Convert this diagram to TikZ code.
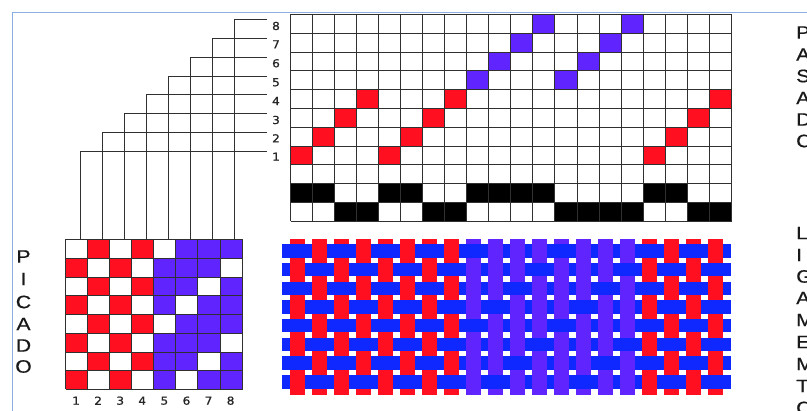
\documentclass[tikz,border=0pt]{standalone}
\usepackage{fontspec}
\setmainfont{Liberation Sans}
\newfontfamily\letterfont[RawFeature={embolden=0.5}]{Liberation Sans}
\newfontfamily\digitfont[RawFeature={embolden=0.9}]{DejaVu Sans}
\definecolor{wred}{HTML}{FF0F1F}
\definecolor{wpurple}{HTML}{6024FF}
\definecolor{wblue}{HTML}{0F28FF}
\definecolor{frameblue}{HTML}{8FAEE0}
\definecolor{gridgray}{HTML}{303030}
\tikzset{
  gridline/.style={draw=gridgray,line width=1.7pt},
  tieline/.style={draw=gridgray,line width=1.4pt},
  numlabel/.style={font=\digitfont\fontsize{11}{11}\selectfont,text=black!85,inner sep=0pt,xscale=1.1},
  bigletter/.style={font=\letterfont\fontsize{18}{18}\selectfont,text=black!90,inner sep=0pt,xscale=1.18},
  sideletter/.style={font=\letterfont\fontsize{18}{18}\selectfont,text=black!90,inner sep=0pt,anchor=west,xscale=1.15},
}
% main draft geometry, snapped to the pixel raster
\newcommand{\mx}[1]{round(290+22.04*(#1))+0.5}
\newcommand{\my}[1]{round(14+18.79*(#1))+0.5}
\newcommand{\lx}[1]{round(65+22.08*(#1))+0.5}
\newcommand{\ly}[1]{round(239+18.75*(#1))+0.5}
\begin{document}
\begin{tikzpicture}[x=1pt,y=-1pt]
\useasboundingbox (0,0) rectangle (807,411);
\clip (0,0) rectangle (807,411);
\fill[white] (0,0) rectangle (807,411);
% frame
\coordinate (frameA) at (12.5,411);
\coordinate (frameB) at (12.5,12.5);
\coordinate (frameC) at (807,12.5);
\draw[frameblue,line width=1.8pt] (frameA) -- (frameB) -- (frameC);
% threading draft: filled cells (col/row from top)
\foreach \c/\r in {11/0,15/0,10/1,14/1,9/2,13/2,8/3,12/3}
  \fill[wpurple] ({\mx{\c}},{\my{\r}}) rectangle ({\mx{\c+1}},{\my{\r+1}});
\foreach \c/\r in {3/4,7/4,19/4,2/5,6/5,18/5,1/6,5/6,17/6,0/7,4/7,16/7}
  \fill[wred] ({\mx{\c}},{\my{\r}}) rectangle ({\mx{\c+1}},{\my{\r+1}});
\foreach \c in {0,1,4,5,8,9,10,11,16,17}
  \fill[black] ({\mx{\c}},{\my{9}}) rectangle ({\mx{\c+1}},{\my{10}});
\foreach \c in {2,3,6,7,12,13,14,15,18,19}
  \fill[black] ({\mx{\c}},{\my{10}}) rectangle ({\mx{\c+1}},{\my{11}});
\foreach \c in {0,...,20}
  \draw[gridline] ({\mx{\c}},{\my{0}}) -- ({\mx{\c}},{\my{11}});
\foreach \r in {0,...,11}
  \draw[gridline] ({\mx{0}},{\my{\r}}) -- ({\mx{20}},{\my{\r}});
% tie-up grid
\foreach \c/\r in {1/0,3/0,0/1,2/1,1/2,3/2,0/3,2/3,1/4,3/4,0/5,2/5,1/6,3/6,0/7,2/7}
  \fill[wred] ({\lx{\c}},{\ly{\r}}) rectangle ({\lx{\c+1}},{\ly{\r+1}});
\foreach \c/\r in {5/0,6/0,7/0,4/1,5/1,6/1,4/2,5/2,7/2,4/3,6/3,7/3,5/4,6/4,7/4,4/5,5/5,6/5,4/6,5/6,7/6,4/7,6/7,7/7}
  \fill[wpurple] ({\lx{\c}},{\ly{\r}}) rectangle ({\lx{\c+1}},{\ly{\r+1}});
\foreach \c in {0,...,8}
  \draw[gridline] ({\lx{\c}},{\ly{0}}) -- ({\lx{\c}},{\ly{8}});
\foreach \r in {0,...,8}
  \draw[gridline] ({\lx{0}},{\ly{\r}}) -- ({\lx{8}},{\ly{\r}});
% tie lines with shaft labels
\foreach \i/\vx/\hy/\ty in {1/80.5/151.5/156.7,2/102.5/132.5/138.3,3/124.5/113.5/120,4/146.5/94.5/101,5/168.5/76.5/82.3,6/190.5/57.5/63.3,7/212.5/38.5/44.3,8/234.5/19.5/26}{
  \coordinate (foot\i) at (\vx,239);
  \coordinate (corner\i) at (\vx,\hy);
  \coordinate (end\i) at (266.7,\hy);
  \draw[tieline] (foot\i) -- (corner\i) -- (end\i);
  \node[numlabel] (shaft\i) at (276,\ty) {\i};
}
% treadle numbers
\foreach \i in {1,...,8}
  \node[numlabel] (treadle\i) at ({65+22.08*(\i-0.5)},400.7) {\i};
% PICADO
\foreach \t/\ty/\n in {P/256.5/a,I/279/b,C/302/c,A/324/d,D/345.5/e,O/366.5/f}
  \node[bigletter] (pic\n) at (23.5,\ty) {\t};
% PASADO
\foreach \t/\ty/\n in {P/32.5/a,A/54.5/b,S/76/c,A/98/d,D/119.5/e,O/141/f}
  \node[sideletter] (pas\n) at (796,\ty) {\t};
% LIGAMENTO
\foreach \t/\ty/\n in {L/233/a,I/255/b,G/276.5/c,A/298/d,M/320/e,E/342/f,M/364/g,T/386/h,O/408/i}
  \node[sideletter] (lig\n) at (796,\ty) {\t};
% weave: warps then wefts then warp floats
\def\warpw{15.2}
\def\weftw{13.4}
\foreach \c/\col in {0/wred,1/wred,2/wred,3/wred,4/wred,5/wred,6/wred,7/wred,8/wpurple,9/wpurple,10/wpurple,11/wpurple,12/wpurple,13/wpurple,14/wpurple,15/wpurple,16/wred,17/wred,18/wred,19/wred}
  \fill[\col] ({290+22*\c},239) rectangle ({290+22*\c+\warpw},395);
\foreach \r in {0,...,7}
  \fill[wblue] (282.3,{244.3+18.7*\r}) rectangle (731,{244.3+18.7*\r+\weftw});
% warp over weft at raised shafts (col/row)
\foreach \r/\list in {0/{1,3,5,7,9,10,11,13,14,15,17,19},
                      1/{0,2,4,6,8,9,10,12,13,14,16,18},
                      2/{1,3,5,7,8,9,11,12,13,15,17,19},
                      3/{0,2,4,6,8,10,11,12,14,15,16,18},
                      4/{1,3,5,7,9,10,11,13,14,15,17,19},
                      5/{0,2,4,6,8,9,10,12,13,14,16,18},
                      6/{1,3,5,7,8,9,11,12,13,15,17,19},
                      7/{0,2,4,6,8,10,11,12,14,15,16,18}}{
  \foreach \c in \list {
    \pgfmathtruncatemacro{\ispurple}{(\c>=8 && \c<=15) ? 1 : 0}
    \ifnum\ispurple=1 \def\wc{wpurple}\else\def\wc{wred}\fi
    \fill[\wc] ({290+22*\c},{244.3+18.7*\r-0.3}) rectangle ({290+22*\c+\warpw},{244.3+18.7*\r+\weftw+0.3});
  }
}
\end{tikzpicture}
\end{document}
